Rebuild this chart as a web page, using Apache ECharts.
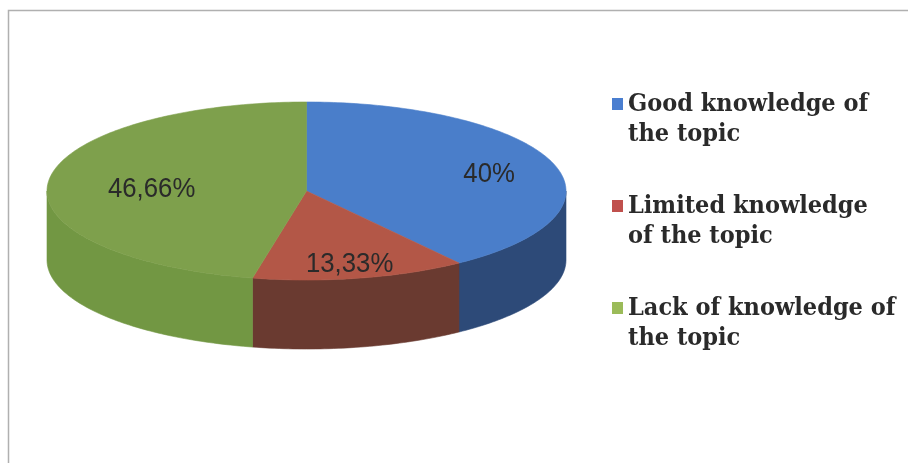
<!DOCTYPE html>
<html>
<head>
<meta charset="utf-8">
<script src="https://cdn.jsdelivr.net/npm/echarts@6/dist/echarts.min.js"></script>
<style>
  html, body { margin: 0; padding: 0; background: #ffffff; }
  #chart { width: 908px; height: 463px; }
</style>
</head>
<body>
<div id="chart"></div>
<script>
// Categories (legend names, wrapped as shown) and their shares in percent
const categories = [
  'Good knowledge of\nthe topic',
  'Limited knowledge\nof the topic',
  'Lack of knowledge of\nthe topic'
];
const shares = [40, 13.33, 46.66];
const shareLabels = ['40%', '13,33%', '46,66%'];

// Colours: top face, side wall, legend key
const topColors = ['#4A7ECA', '#B35747', '#7EA04C'];
const sideColors = ['#2D4A78', '#6A3A30', '#729743'];
const keyColors = ['#4A7ED0', '#C0504D', '#9BBB59'];

// Geometry of the tilted pie (pixels)
const PIE = { cx: 306.5, cy: 191, rx: 259.5, ry: 89, depth: 69 };
const LABEL_R = [0.74, 0.8, 0.6];
const LABEL_DY = 4;

const total = shares.reduce((a, b) => a + b, 0);
const starts = [];
let acc = 0;
shares.forEach(v => { starts.push(acc); acc += v; });

// point on the ellipse; theta runs clockwise from 12 o'clock
function pt(theta, dy) {
  return [PIE.cx + PIE.rx * Math.sin(theta), PIE.cy - PIE.ry * Math.cos(theta) + (dy || 0)];
}
function arc(a0, a1, dy) {
  const n = Math.max(2, Math.ceil(Math.abs(a1 - a0) / (Math.PI / 180)));
  const out = [];
  for (let i = 0; i <= n; i++) out.push(pt(a0 + (a1 - a0) * i / n, dy));
  return out;
}

function renderSlice(idx) {
  return function (params, api) {
    const v = api.value(0), s = api.value(1);
    const a0 = s / total * 2 * Math.PI;
    const a1 = (s + v) / total * 2 * Math.PI;
    const children = [];
    // outer wall, only the front half faces the viewer
    const f0 = Math.max(a0, Math.PI / 2), f1 = Math.min(a1, 1.5 * Math.PI);
    if (f1 > f0) {
      const upper = arc(f0, f1, 0), lower = arc(f1, f0, PIE.depth);
      children.push({
        type: 'polygon', z2: 1,
        shape: { points: upper.concat(lower) },
        style: { fill: sideColors[idx], stroke: sideColors[idx], lineWidth: 0.6 }
      });
    }
    // top face
    children.push({
      type: 'polygon', z2: 5,
      shape: { points: [[PIE.cx, PIE.cy]].concat(arc(a0, a1, 0)) },
      style: { fill: topColors[idx], stroke: topColors[idx], lineWidth: 0.6 }
    });
    // value label
    const mid = (a0 + a1) / 2, r = LABEL_R[idx];
    children.push({
      type: 'text', z2: 10,
      x: PIE.cx + r * PIE.rx * Math.sin(mid),
      y: PIE.cy - r * PIE.ry * Math.cos(mid) + LABEL_DY,
      scaleX: 0.92,
      style: {
        text: shareLabels[idx],
        fill: '#2a2a2a',
        fontSize: 28,
        fontFamily: '"Liberation Sans", sans-serif',
        align: 'center',
        verticalAlign: 'middle'
      }
    });
    return { type: 'group', children };
  };
}

const chart = echarts.init(document.getElementById('chart'), null, { renderer: 'canvas' });

const serif = '"DejaVu Serif Condensed", "DejaVu Serif", serif';
const rich = {
  t: { fontFamily: serif, fontSize: 25, fontWeight: 'bold', color: '#2a2a2a', lineHeight: 30 },
  sp: { width: 5, lineHeight: 30 },
  pad: { width: 16, lineHeight: 30 }
};
keyColors.forEach((c, i) => { rich['m' + i] = { width: 11, height: 12, backgroundColor: c }; });

chart.setOption({
  animation: false,
  backgroundColor: '#ffffff',
  color: keyColors,
  graphic: [{
    type: 'rect', silent: true,
    shape: { x: 8.5, y: 10.5, width: 1000, height: 1000 },
    style: { fill: 'none', stroke: '#b0b0b0', lineWidth: 1.5 }
  }],
  legend: {
    orient: 'vertical',
    left: 607,
    top: 89,
    padding: 0,
    itemGap: 42,
    itemWidth: 0,
    itemHeight: 0,
    selectedMode: false,
    data: categories,
    formatter: function (name) {
      const i = categories.indexOf(name);
      const lines = name.split('\n');
      return '{m' + i + '|}{sp|}{t|' + lines[0] + '}\n{pad|}{t|' + lines[1] + '}';
    },
    textStyle: { fontFamily: serif, fontSize: 25, fontWeight: 'bold', color: '#2a2a2a', lineHeight: 30, rich: rich }
  },
  series: categories.map((name, i) => ({
    type: 'custom',
    name: name,
    coordinateSystem: 'none',
    silent: true,
    renderItem: renderSlice(i),
    data: [[shares[i], starts[i]]]
  }))
});
</script>
</body>
</html>
